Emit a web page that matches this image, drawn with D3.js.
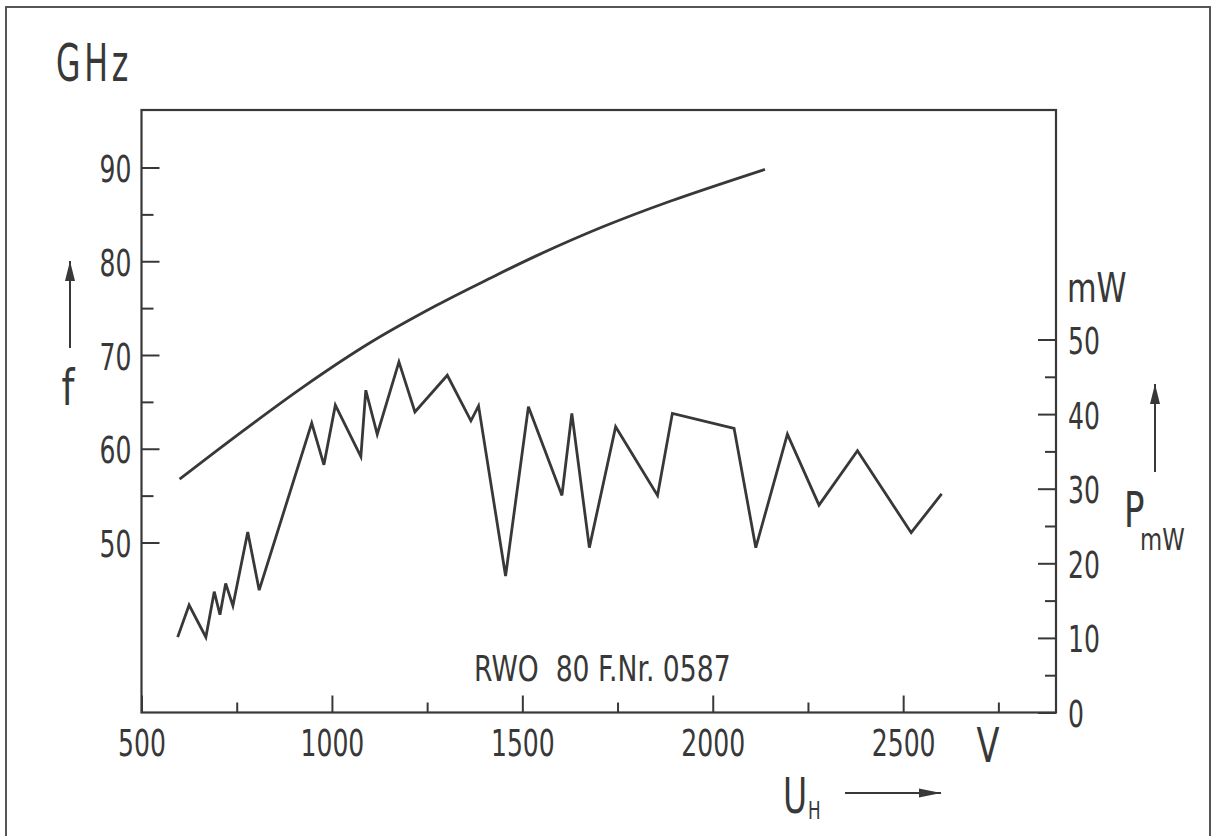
<!DOCTYPE html>
<html>
<head>
<meta charset="utf-8">
<title>RWO 80 F.Nr. 0587</title>
<script src="https://d3js.org/d3.v7.min.js"></script>
<style>
  body { margin: 0; background: #fff; }
  svg { display: block; font-family: "DejaVu Sans", sans-serif; }
  .ink { fill: #383838; white-space: pre; }
  .axis path { display: none; }
  .axis line { stroke: #383838; stroke-width: 2px; }
  .axis text { fill: #383838; }
  .curve { fill: none; stroke: #383838; stroke-width: 2.8px; stroke-linejoin: miter; }
</style>
</head>
<body>
<div id="chart"></div>
<script>
// frequency f (GHz) against helix voltage U_H (V)
const freqU = [600, 750, 925, 1100, 1275, 1411, 1538, 1713, 1888, 2137];
const freqF = [56.75, 61.4, 66.6, 71.3, 75.3, 78.1, 80.6, 83.7, 86.4, 89.8];

// output power P (mW) against U_H (V)
const powU = [595, 625, 669, 691, 706, 721, 740, 779, 809, 947, 979, 1009, 1076, 1089, 1119, 1176,
              1218, 1303, 1365, 1385, 1456, 1516, 1604, 1630, 1676, 1745, 1855, 1894, 2056, 2113,
              2196, 2279, 2380, 2521, 2601];
const powP = [10.1, 14.4, 10.1, 16.2, 13.1, 17.3, 14.3, 24.2, 16.4, 38.8, 33.2, 41.2, 34.3, 43.2, 37.3, 47.0,
              40.3, 45.2, 39.1, 41.1, 18.3, 41.0, 29.1, 40.1, 22.1, 38.3, 29.1, 40.1, 38.1, 22.1,
              37.3, 27.8, 35.1, 24.1, 29.3];

// ticks
const fTicks = [50, 60, 70, 80, 90];
const fMinor = [55, 65, 75, 85];
const pTicks = [0, 10, 20, 30, 40, 50];
const pMinor = [5, 15, 25, 35, 45];
const uTicks = [500, 1000, 1500, 2000, 2500];
const uMinor = [750, 1250, 1750, 2250, 2750];

const W = 1212, H = 836;
// plot frame
const pLeft = 141.5, pRight = 1056, pTop = 110, pBottom = 712.5;

const svg = d3.select("#chart").append("svg")
    .attr("width", W)
    .attr("height", H);

// outer page frame (bottom edge lies outside the picture)
svg.append("rect")
   .attr("x", 6).attr("y", 7)
   .attr("width", 1204).attr("height", 860)
   .attr("fill", "none").attr("stroke", "#555").attr("stroke-width", 2);

let x = d3.scaleLinear().domain([500, 2900]).range([pLeft, pRight - 0.5]);
let yF = d3.scaleLinear().domain([50, 90]).range([542.5, 167.5]);
let yP = d3.scaleLinear().domain([0, 50]).range([pBottom, 339.5]);

const sx = 0.66; // narrow lettering
const fmt = d3.format("d");

function squeeze(g, size) {
    g.attr("font-size", size).attr("font-family", null);
    g.selectAll("text")
     .attr("x", function() { return (+d3.select(this).attr("x") || 0) / sx; })
     .attr("transform", "scale(" + sx + ",1)");
}

// left axis (f)
svg.append("g").attr("class", "axis")
   .attr("transform", "translate(" + pLeft + ",0)")
   .call(d3.axisLeft(yF).tickValues(fMinor).tickSize(-12).tickFormat(""));
let gl = svg.append("g").attr("class", "axis")
   .attr("transform", "translate(" + pLeft + ",0)")
   .call(d3.axisLeft(yF).tickValues(fTicks).tickSize(-18).tickPadding(10).tickFormat(fmt));
squeeze(gl, 38);
gl.selectAll("text").attr("dy", "0.37em");

// right axis (P)
svg.append("g").attr("class", "axis")
   .attr("transform", "translate(" + pRight + ",0)")
   .call(d3.axisRight(yP).tickValues(pMinor).tickSize(-11).tickFormat(""));
let gr = svg.append("g").attr("class", "axis")
   .attr("transform", "translate(" + pRight + ",0)")
   .call(d3.axisRight(yP).tickValues(pTicks).tickSize(-18).tickPadding(12).tickFormat(fmt));
squeeze(gr, 38);
gr.selectAll("text").attr("dy", "0.37em");

// bottom axis (U_H)
svg.append("g").attr("class", "axis")
   .attr("transform", "translate(0," + pBottom + ")")
   .call(d3.axisBottom(x).tickValues(uMinor).tickSize(-10).tickFormat(""));
let gb = svg.append("g").attr("class", "axis")
   .attr("transform", "translate(0," + pBottom + ")")
   .call(d3.axisBottom(x).tickValues(uTicks).tickSize(-17).tickPadding(17).tickFormat(fmt));
squeeze(gb, 38);

// plot frame
svg.append("rect")
   .attr("x", pLeft).attr("y", pTop)
   .attr("width", pRight - pLeft).attr("height", pBottom - pTop)
   .attr("fill", "none").attr("stroke", "#383838").attr("stroke-width", 2.2);

// curves
let fLine = d3.line()
    .x(function(d, i) { return x(freqU[i]); })
    .y(function(d) { return yF(d); })
    .curve(d3.curveCatmullRom.alpha(0.5));
svg.append("path").attr("class", "curve").datum(freqF).attr("d", fLine);

let pLine = d3.line()
    .x(function(d, i) { return x(powU[i]); })
    .y(function(d) { return yP(d); });
svg.append("path").attr("class", "curve").datum(powP).attr("d", pLine);

// text labels
function label(px, py, str, size, s, anchor) {
    return svg.append("text")
        .attr("class", "ink")
        .attr("xml:space", "preserve")
        .attr("transform", "translate(" + px + "," + py + ") scale(" + s + ",1)")
        .attr("font-size", size)
        .attr("text-anchor", anchor || "start")
        .text(str);
}

function arrow(x1, y1, x2, y2, len, half) {
    svg.append("line")
       .attr("x1", x1).attr("y1", y1).attr("x2", x2).attr("y2", y2)
       .attr("stroke", "#383838").attr("stroke-width", 2);
    let a = Math.atan2(y2 - y1, x2 - x1);
    let bx = x2 - len * Math.cos(a), by = y2 - len * Math.sin(a);
    let nx = -Math.sin(a) * half, ny = Math.cos(a) * half;
    svg.append("path")
       .attr("d", "M" + x2 + "," + y2 + "L" + (bx + nx) + "," + (by + ny) + "L" + (bx - nx) + "," + (by - ny) + "Z")
       .attr("fill", "#383838");
}

label(56, 81, "GHz", 51, 0.62).attr("letter-spacing", 6);
label(1067, 302, "mW", 40, 0.76);
label(988, 762, "V", 48, 0.7, "middle");
label(68, 405, "f", 49, 0.75, "middle");
arrow(70, 348, 70, 261, 20, 5);

label(783, 813, "U", 50, 0.66);
label(808, 819, "H", 24, 0.7);
arrow(845, 793, 941, 793, 22, 4.5);

label(1124, 527, "P", 50, 0.68);
label(1140, 550, "mW", 30, 0.76);
arrow(1155, 472, 1155, 384, 20, 5);

label(474, 681, "RWO  80 F.Nr. 0587", 36, 0.74);
</script>
</body>
</html>
